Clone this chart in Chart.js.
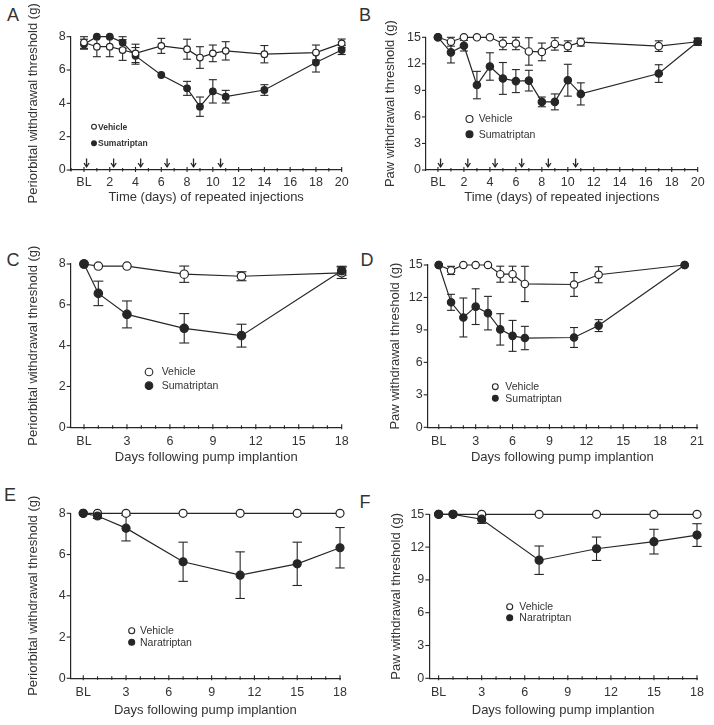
<!DOCTYPE html>
<html>
<head>
<meta charset="utf-8">
<script src="https://cdn.jsdelivr.net/npm/chart.js@4.4.0/dist/chart.umd.min.js"></script>
<style>
  body { margin: 0; background: #fff; }
  #page { position: relative; width: 714px; height: 725px; overflow: hidden; background: #fff; }
  #page canvas { position: absolute; }
  .letter { position: absolute; font: 18px 'Liberation Sans', Arial, Helvetica, sans-serif; color: #333; line-height: 18px; transform: translate(-50%, -50%); }
</style>
</head>
<body>
<div id="page"></div>
<script>
// Series names
const seriesVehicle = 'Vehicle';
const seriesSuma = 'Sumatriptan';
const seriesNara = 'Naratriptan';

// Days of the repeated injections (arrows in A and B)
const injectionDays = [0.2, 2.3, 4.4, 6.45, 8.5, 10.6];

// Tick labels (0 is shown as BL)
const repeatedXTicks = [0, 2, 4, 6, 8, 10, 12, 14, 16, 18, 20];
const pump18XTicks = [0, 3, 6, 9, 12, 15, 18];
const pump21XTicks = [0, 3, 6, 9, 12, 15, 18, 21];
const periorbitalYTicks = [0, 2, 4, 6, 8];
const pawYTicks = [0, 3, 6, 9, 12, 15];

// A: periorbital, repeated sumatriptan injections
const aDays = [0, 1, 2, 3, 4, 6, 8, 9, 10, 11, 14, 18, 20];
const aVehicle = [7.65, 7.4, 7.4, 7.2, 7.0, 7.45, 7.25, 6.75, 7.0, 7.15, 6.95, 7.05, 7.6];
const aVehicleErr = [0.35, 0.6, 0.6, 0.62, 0.55, 0.45, 0.6, 0.65, 0.5, 0.55, 0.52, 0.45, 0.26];
const aSuma = [7.55, 8.0, 8.0, 7.65, 6.85, 5.7, 4.9, 3.8, 4.72, 4.4, 4.8, 6.45, 7.2];
const aSumaErr = [0.3, 0, 0, 0.35, 0.5, 0, 0.42, 0.58, 0.7, 0.38, 0.32, 0.57, 0.27];

// B: paw, repeated sumatriptan injections
const bDays = [0, 1, 2, 3, 4, 5, 6, 7, 8, 9, 10, 11, 17, 20];
const bVehicle = [15, 14.5, 15, 15, 15, 14.3, 14.3, 13.4, 13.35, 14.25, 14.0, 14.45, 14.0, 14.5];
const bVehicleErr = [0, 0.5, 0, 0, 0, 0.7, 0.7, 1.55, 1.0, 0.7, 0.6, 0.45, 0.6, 0.4];
const bSuma = [15, 13.3, 14.05, 9.6, 11.7, 10.35, 10.05, 10.1, 7.7, 7.7, 10.15, 8.6, 10.9, 14.5];
const bSumaErr = [0, 1.2, 0.6, 1.55, 1.55, 1.8, 1.3, 1.17, 0.55, 0.9, 1.8, 1.25, 1.0, 0.4];

// C: periorbital, sumatriptan pump
const cDays = [0, 1, 3, 7, 11, 18];
const cVehicle = [8.0, 7.9, 7.9, 7.5, 7.4, 7.57];
const cVehicleErr = [0, 0, 0, 0.4, 0.22, 0.28];
const cSuma = [8.0, 6.56, 5.53, 4.85, 4.49, 7.67];
const cSumaErr = [0, 0.6, 0.66, 0.72, 0.56, 0.22];

// D: paw, sumatriptan pump
const dDays = [0, 1, 2, 3, 4, 5, 6, 7, 11, 13, 20];
const dVehicle = [15, 14.5, 15, 15, 15, 14.15, 14.15, 13.25, 13.2, 14.1, 15];
const dVehicleErr = [0, 0.38, 0, 0, 0, 0.74, 0.74, 1.63, 1.1, 0.74, 0];
const dSuma = [15, 11.55, 10.15, 11.15, 10.55, 9.05, 8.45, 8.25, 8.3, 9.4, 15];
const dSumaErr = [0, 0.74, 1.8, 1.65, 1.55, 1.45, 1.43, 1.08, 0.92, 0.55, 0];

// E: periorbital, naratriptan pump
const eDays = [0, 1, 3, 7, 11, 15, 18];
const eVehicle = [8, 8, 8, 8, 8, 8, 8];
const eVehicleErr = [0, 0, 0, 0, 0, 0, 0];
const eNara = [8.0, 7.87, 7.28, 5.65, 5.0, 5.55, 6.33];
const eNaraErr = [0, 0.12, 0.62, 0.95, 1.13, 1.05, 0.98];

// F: paw, naratriptan pump
const fDays = [0, 1, 3, 7, 11, 15, 18];
const fVehicle = [15, 15, 15, 15, 15, 15, 15];
const fVehicleErr = [0, 0, 0, 0, 0, 0, 0];
const fNara = [15, 15, 14.55, 10.8, 11.85, 12.5, 13.1];
const fNaraErr = [0, 0, 0.38, 1.3, 1.07, 1.13, 1.04];

const ink = '#262626';
const textColor = '#333';
const fontFamily = "'Liberation Sans', Arial, Helvetica, sans-serif";
const periorbitalTitle = 'Periorbital withdrawal threshold (g)';
const pawTitle = 'Paw withdrawal threshold (g)';
const repeatedTitle = 'Time (days) of repeated injections';
const pumpTitle = 'Days following pump implantion';

// Panel layout, in page pixels
const panels = [
  { letter: 'A', letterAt: [13, 15], area: { l: 70.7, r: 341.7, t: 36.7, b: 170 }, yTitleX: 33, xTitleY: 196.7,
    xMin: -1.03, xMax: 20, yMax: 8, xTicks: repeatedXTicks, yTicks: periorbitalYTicks,
    xTitle: repeatedTitle, yTitle: periorbitalTitle, radius: 3.3, cap: 4, labelPad: 5, arrows: injectionDays,
    series: [
      { name: seriesVehicle, days: aDays, values: aVehicle, errors: aVehicleErr, filled: false },
      { name: seriesSuma, days: aDays, values: aSuma, errors: aSumaErr, filled: true }
    ],
    legend: { markerX: 94, textX: 98, rows: [126.7, 143.3], font: 'bold 8.5px ' + fontFamily, radius: 2.4 } },
  { letter: 'B', letterAt: [365, 15], area: { l: 426, r: 697.7, t: 37.3, b: 170 }, yTitleX: 390, xTitleY: 196.7,
    xMin: -0.92, xMax: 20, yMax: 15, xTicks: repeatedXTicks, yTicks: pawYTicks,
    xTitle: repeatedTitle, yTitle: pawTitle, radius: 3.7, cap: 4, labelPad: 5, arrows: injectionDays,
    series: [
      { name: seriesSuma, days: bDays, values: bSuma, errors: bSumaErr, filled: true },
      { name: seriesVehicle, days: bDays, values: bVehicle, errors: bVehicleErr, filled: false }
    ],
    legend: { markerX: 469.5, textX: 478.7, rows: [119, 134.3], font: '10.5px ' + fontFamily, radius: 3.5 } },
  { letter: 'C', letterAt: [13, 260], area: { l: 70.7, r: 341.7, t: 264, b: 427.3 }, yTitleX: 33, xTitleY: 457,
    xMin: -0.93, xMax: 18, yMax: 8, xTicks: pump18XTicks, yTicks: periorbitalYTicks,
    xTitle: pumpTitle, yTitle: periorbitalTitle, radius: 4.2, cap: 5, labelPad: 7,
    series: [
      { name: seriesSuma, days: cDays, values: cSuma, errors: cSumaErr, filled: true },
      { name: seriesVehicle, days: cDays, values: cVehicle, errors: cVehicleErr, filled: false }
    ],
    legend: { markerX: 149, textX: 161.7, rows: [372, 385.7], font: '10.5px ' + fontFamily, radius: 3.8 } },
  { letter: 'D', letterAt: [367, 260], area: { l: 427.7, r: 697, t: 265, b: 427.3 }, yTitleX: 395.3, xTitleY: 457,
    xMin: -0.9, xMax: 21, yMax: 15, xTicks: pump21XTicks, yTicks: pawYTicks,
    xTitle: pumpTitle, yTitle: pawTitle, radius: 3.7, cap: 4, labelPad: 7,
    series: [
      { name: seriesSuma, days: dDays, values: dSuma, errors: dSumaErr, filled: true },
      { name: seriesVehicle, days: dDays, values: dVehicle, errors: dVehicleErr, filled: false }
    ],
    legend: { markerX: 495.3, textX: 505.3, rows: [386.7, 398.3], font: '10.5px ' + fontFamily, radius: 2.9 } },
  { letter: 'E', letterAt: [10, 495], area: { l: 70.7, r: 340, t: 513.3, b: 678.3 }, yTitleX: 33, xTitleY: 710,
    xMin: -0.88, xMax: 18, yMax: 8, xTicks: pump18XTicks, yTicks: periorbitalYTicks,
    xTitle: pumpTitle, yTitle: periorbitalTitle, radius: 4, cap: 4.7, labelPad: 7,
    series: [
      { name: seriesNara, days: eDays, values: eNara, errors: eNaraErr, filled: true },
      { name: seriesVehicle, days: eDays, values: eVehicle, errors: eVehicleErr, filled: false }
    ],
    legend: { markerX: 131.7, textX: 140, rows: [630.7, 642.3], font: '10.5px ' + fontFamily, radius: 3 } },
  { letter: 'F', letterAt: [365, 502], area: { l: 429.3, r: 697, t: 514.3, b: 678.3 }, yTitleX: 396.3, xTitleY: 710,
    xMin: -0.65, xMax: 18, yMax: 15, xTicks: pump18XTicks, yTicks: pawYTicks,
    xTitle: pumpTitle, yTitle: pawTitle, radius: 4, cap: 4.7, labelPad: 7,
    series: [
      { name: seriesNara, days: fDays, values: fNara, errors: fNaraErr, filled: true },
      { name: seriesVehicle, days: fDays, values: fVehicle, errors: fVehicleErr, filled: false }
    ],
    legend: { markerX: 509.7, textX: 519.3, rows: [606.7, 617.7], font: '10.5px ' + fontFamily, radius: 3 } }
];

const page = document.getElementById('page');

const line = (ctx, x1, y1, x2, y2) => {
  ctx.beginPath();
  ctx.moveTo(x1, y1);
  ctx.lineTo(x2, y2);
  ctx.stroke();
};

// Error bars, tick marks, arrows and the inline legend
const makeDecor = (p, cx, cy) => ({
  id: 'decor' + p.letter,
  beforeDatasetsDraw(chart) {
    const { ctx, scales: { x, y } } = chart;
    ctx.save();
    ctx.strokeStyle = ink;
    ctx.lineWidth = 1.1;
    chart.data.datasets.forEach(ds => {
      ds.data.forEach((pt, i) => {
        const e = ds.errors[i];
        if (!e) return;
        const px = x.getPixelForValue(pt.x);
        const top = y.getPixelForValue(pt.y + e);
        const bot = y.getPixelForValue(pt.y - e);
        line(ctx, px, top, px, bot);
        line(ctx, px - p.cap, top, px + p.cap, top);
        line(ctx, px - p.cap, bot, px + p.cap, bot);
      });
    });
    ctx.restore();
  },
  afterDraw(chart) {
    const { ctx, chartArea: area, scales: { x, y } } = chart;
    ctx.save();
    ctx.strokeStyle = ink;
    ctx.lineWidth = 1.1;
    // y ticks, outward
    p.yTicks.forEach(v => {
      const py = y.getPixelForValue(v);
      line(ctx, area.left - 4, py, area.left, py);
    });
    // x ticks across the axis, minor every day
    for (let d = Math.ceil(p.xMin); d <= p.xMax; d++) {
      const px = x.getPixelForValue(d);
      const major = p.xTicks.includes(d);
      line(ctx, px, area.bottom + (major ? 2 : 1.5), px, area.bottom - (major ? 3 : 2));
    }
    // injection arrows
    ctx.lineWidth = 1.3;
    (p.arrows || []).forEach(d => {
      const px = x.getPixelForValue(d);
      const y0 = area.bottom - 11.5;
      const y1 = area.bottom - 3.2;
      line(ctx, px, y0, px, y1);
      ctx.beginPath();
      ctx.moveTo(px - 2.6, y1 - 3.8);
      ctx.lineTo(px, y1);
      ctx.lineTo(px + 2.6, y1 - 3.8);
      ctx.stroke();
    });
    ctx.lineWidth = 1.1;
    // legend
    const lg = p.legend;
    const entries = [
      p.series.find(s => !s.filled),
      p.series.find(s => s.filled)
    ];
    ctx.font = lg.font;
    ctx.textBaseline = 'middle';
    ctx.textAlign = 'left';
    entries.forEach((s, i) => {
      const my = lg.rows[i] - cy;
      const mx = lg.markerX - cx;
      ctx.beginPath();
      ctx.arc(mx, my, lg.radius, 0, Math.PI * 2);
      ctx.fillStyle = s.filled ? ink : '#fff';
      ctx.fill();
      ctx.stroke();
      ctx.fillStyle = textColor;
      ctx.fillText(s.name, lg.textX - cx, my + 0.5);
    });
    ctx.restore();
  }
});

panels.forEach(p => {
  const a = p.area;
  const cx = Math.floor(p.yTitleX - 11.8);
  // tall enough above the plot for the full rotated y title
  const cy = Math.max(0, Math.floor(Math.min(a.t - 12, (a.t + a.b) / 2 - 110)));
  const padLeft = (p.yTitleX - 11.8) - cx;
  const width = Math.ceil(a.r + 14 - cx);
  const height = Math.ceil(p.xTitleY + 11.8 - cy);
  const yW = a.l - cx - padLeft;
  const xH = height - (a.b - cy);

  const letter = document.createElement('div');
  letter.className = 'letter';
  letter.textContent = p.letter;
  letter.style.left = p.letterAt[0] + 'px';
  letter.style.top = p.letterAt[1] + 'px';
  page.appendChild(letter);

  const canvas = document.createElement('canvas');
  canvas.width = width;
  canvas.height = height;
  canvas.style.left = cx + 'px';
  canvas.style.top = cy + 'px';
  canvas.style.width = width + 'px';
  canvas.style.height = height + 'px';
  page.appendChild(canvas);

  const tickFont = { family: fontFamily, size: 12.5 };
  const titleFont = { family: fontFamily, size: 13 };

  new Chart(canvas, {
    type: 'line',
    data: {
      datasets: p.series.map(s => ({
        label: s.name,
        data: s.days.map((d, i) => ({ x: d, y: s.values[i] })),
        errors: s.errors,
        borderColor: ink,
        borderWidth: 1.2,
        pointRadius: p.radius,
        pointHoverRadius: p.radius,
        pointBackgroundColor: s.filled ? ink : '#fff',
        pointBorderColor: ink,
        pointBorderWidth: 1.2,
        tension: 0,
        fill: false,
        clip: false
      }))
    },
    options: {
      responsive: false,
      animation: false,
      events: [],
      devicePixelRatio: 1,
      layout: { padding: { left: padLeft, top: a.t - cy, right: width - (a.r - cx), bottom: 0 } },
      plugins: { legend: { display: false }, tooltip: { enabled: false } },
      scales: {
        x: {
          type: 'linear',
          min: p.xMin,
          max: p.xMax,
          grid: { display: false, drawTicks: false },
          border: { display: true, color: ink, width: 1.2 },
          ticks: {
            padding: p.labelPad,
            color: textColor,
            font: tickFont,
            autoSkip: false,
            maxRotation: 0,
            callback: v => (v === 0 ? 'BL' : String(v))
          },
          afterBuildTicks: s => { s.ticks = p.xTicks.map(v => ({ value: v })); },
          afterFit: s => { s.height = xH; },
          title: { display: true, text: p.xTitle, color: textColor, font: titleFont, padding: { top: 4, bottom: 4 } }
        },
        y: {
          type: 'linear',
          min: 0,
          max: p.yMax,
          grid: { display: false, drawTicks: false },
          border: { display: true, color: ink, width: 1.2 },
          ticks: { padding: 5, color: textColor, font: tickFont },
          afterBuildTicks: s => { s.ticks = p.yTicks.map(v => ({ value: v })); },
          afterFit: s => { s.width = yW; },
          title: { display: true, text: p.yTitle, color: textColor, font: titleFont, padding: { top: 4, bottom: 4 } }
        }
      }
    },
    plugins: [makeDecor(p, cx, cy)]
  });
});
</script>
</body>
</html>
